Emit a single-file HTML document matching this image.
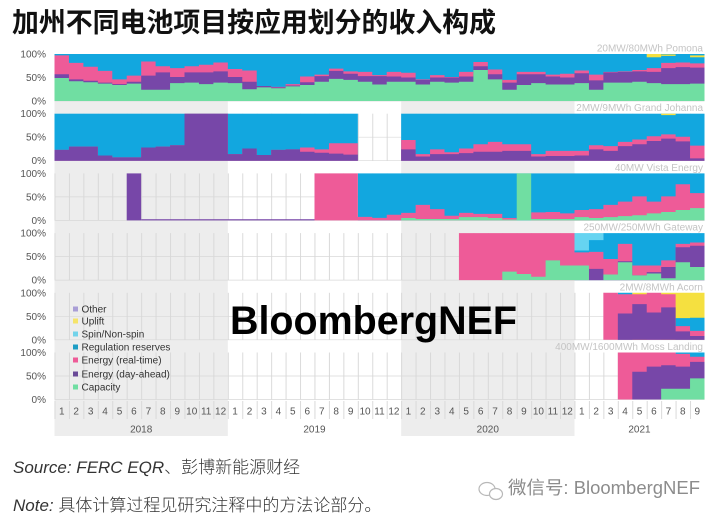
<!DOCTYPE html>
<html><head><meta charset="utf-8"><style>
html,body{margin:0;padding:0;background:#fff;}
svg{display:block;}
text{font-family:"Liberation Sans","Noto Sans CJK SC",sans-serif;}
</style></head><body>
<svg width="724" height="522" viewBox="0 0 724 522" xmlns="http://www.w3.org/2000/svg">
<defs>
<pattern id="vg" patternUnits="userSpaceOnUse" x="54.5" y="0" width="14.4444" height="10"><rect x="0" y="0" width="0.9" height="10" fill="#d6d6d6"/></pattern>
</defs>
<rect width="724" height="522" fill="#fff"/>
<!-- year shading -->
<rect x="54.5" y="54" width="173.33" height="382" fill="#ededed"/>
<rect x="401.17" y="54" width="173.33" height="382" fill="#ededed"/>
<!-- grids -->
<g fill="url(#vg)">
<rect x="54.5" y="54" width="650" height="47"/>
<rect x="54.5" y="113.7" width="650" height="47"/>
<rect x="54.5" y="173.4" width="650" height="47"/>
<rect x="54.5" y="233.1" width="650" height="47"/>
<rect x="54.5" y="292.8" width="650" height="47"/>
<rect x="54.5" y="352.5" width="650" height="47"/>
<rect x="54.5" y="401" width="650" height="18"/>
</g>
<g stroke="#d8d8d8" stroke-width="0.7" fill="none">
<path d="M54.5,77.5H704.5M54.5,101H704.5M54.5,137.2H704.5M54.5,160.7H704.5M54.5,196.9H704.5M54.5,220.4H704.5M54.5,256.6H704.5M54.5,280.1H704.5M54.5,316.3H704.5M54.5,339.8H704.5M54.5,376H704.5M54.5,399.5H704.5"/>
</g>

<!-- Panel 1 Pomona -->
<g transform="translate(54.5,54) scale(14.4444,0.47)">
<rect x="0" y="0" width="45" height="100" fill="#12a7df"/>
<rect x="41" y="0" width="1" height="7" fill="#f5e040"/>
<rect x="42" y="1" width="1" height="3" fill="#f5e040"/>
<rect x="44" y="3" width="1" height="4" fill="#f5e040"/>
<path fill="#ee5b98" d="M0,100V3H1V19H2V27H3V36H4V54H5V46H6V16H7V26H8V30H9V26H10V23H11V18H12V32H13V35H14V68H15V70H16V64H17V48H18V44H19V31H20V37H21V38H22V45H23V38H24V40H25V54H26V45H27V49H28V38H29V17H30V33H31V55H32V38H34V44H35V42H36V35H37V44H38V38H39V37H40V34H41V30H42V19H43V18H44V20H45V100Z"/>
<path fill="#7747a8" d="M0,100V43H1V54H2V57H3V61H4V64H5V59H6V46H7V39H8V49H9V39H11V37H12V49H13V59H14V68H15V71H16V67H17V60H18V47H19V36H20V42H21V47H23V48H24V50H25V55H26V50H28V48H29V26H30V43H31V61H32V43H34V48H35V50H36V41H37V56H38V39H39V38H40V37H41V38H42V30H43V28H44V29H45V100Z"/>
<path fill="#70dea2" d="M0,100V51H1V58H2V60H3V63H4V66H5V63H6V76H8V62H9V61H10V64H11V61H12V62H13V75H14V71H15V73H16V69H17V66H18V59H19V53H20V55H21V59H22V65H23V59H25V65H26V59H27V61H28V59H29V34H30V54H31V76H32V66H33V62H34V65H36V62H37V76H38V61H40V59H41V62H42V64H44V63H45V100Z"/>
</g>

<!-- Panel 2 Grand Johanna -->
<g transform="translate(54.5,113.7) scale(14.4444,0.47)">
<rect x="0" y="0" width="21" height="100" fill="#12a7df"/>
<rect x="24" y="0" width="21" height="100" fill="#12a7df"/>
<rect x="42" y="0" width="1" height="3" fill="#f5e040"/>
<path fill="#ee5b98" d="M0,100V77H1V70H3V89H4V93H6V72H7V70H8V67H9V0H12V86H13V74H14V88H15V77H16V76H17V72H18V76H19V63H21V100H24V56H25V86H26V76H27V82H28V74H29V65H30V60H31V65H33V86H34V79H37V67H38V69H39V60H40V55H41V48H42V44H43V49H44V68H45V100Z"/>
<path fill="#7747a8" d="M0,100V77H1V70H3V89H4V93H6V72H7V70H8V67H9V0H12V86H13V74H14V88H15V77H16V76H17V81H18V83H19V85H20V87H21V100H24V76H25V91H26V86H28V84H29V81H31V79H33V91H34V90H36V89H37V76H38V79H39V69H40V65H41V58H42V53H43V59H44V95H45V100Z"/>
</g>

<!-- Panel 3 Vista Energy -->
<g transform="translate(54.5,173.4) scale(14.4444,0.47)">
<rect x="21" y="0" width="24" height="100" fill="#12a7df"/>
<rect x="5" y="0" width="1" height="100" fill="#7747a8"/>
<rect x="6" y="97.5" width="12" height="2.5" fill="#7747a8"/>
<path fill="#ee5b98" d="M18,100V0H21V92.5H22V94.5H23V88H24V84H25V67H26V76H27V90H28V84H29V86H31V95H32V100H33V83H34V82H35V85H36V78H37V76H38V67H39V60H40V49H41V60H42V49H43V23H44V42H45V100Z"/>
<path fill="#70dea2" d="M24,100V95H25V97H28V93H30V95H31V98H32V0H33V97H36V93H37V95H38V93H39V91H40V89H41V85H42V82H43V78H44V74H45V100Z"/>
</g>

<!-- Panel 4 Gateway -->
<g transform="translate(54.5,233.1) scale(14.4444,0.47)">
<rect x="36" y="0" width="2" height="100" fill="#66d4f1"/>
<path fill="#12a7df" d="M36,100V37H37V15H38V0H45V100Z"/>
<path fill="#ee5b98" d="M28,100V0H36V41H37V40H38V55H39V23H40V69H42V58H43V23H44V20H45V100Z"/>
<path fill="#7747a8" d="M37,100V76H38V88H39V60H40V90H41V83H42V72H43V30H44V27H45V100Z"/>
<path fill="#70dea2" d="M31,100V82H32V87H33V93H34V58H35V69H37V100H38V88H39V62H40V90H41V86H42V96H43V62H44V72H45V100Z"/>
</g>

<!-- Panel 5 Acorn -->
<g transform="translate(54.5,292.8) scale(14.4444,0.47)">
<path fill="#f5e040" d="M40,100V0H41V100H42V0H45V100Z"/>
<path fill="#12a7df" d="M39,100V0H40V100H43V54H44V53H45V100Z"/>
<path fill="#ee5b98" d="M38,100V0H39V3H41V0H42V3H43V71H44V81H45V100Z"/>
<path fill="#7747a8" d="M39,100V44H40V24H41V42H42V31H43V82H44V92H45V100Z"/>
</g>

<!-- Panel 6 Moss Landing -->
<g transform="translate(54.5,352.5) scale(14.4444,0.47)">
<path fill="#12a7df" d="M43,100V0H45V100Z"/>
<path fill="#ee5b98" d="M39,100V0H43V3H44V9H45V100Z"/>
<path fill="#7747a8" d="M40,100V41H41V30H42V27H43V30H44V20H45V100Z"/>
<path fill="#70dea2" d="M42,100V77H44V55H45V100Z"/>
</g>

<!-- panel labels -->
<g font-size="10" fill="#c4c4c4" text-anchor="end">
<text x="703" y="51.5">20MW/80MWh Pomona</text>
<text x="703" y="111.2">2MW/9MWh Grand Johanna</text>
<text x="703" y="170.9">40MW Vista Energy</text>
<text x="703" y="230.6">250MW/250MWh Gateway</text>
<text x="703" y="290.3">2MW/8MWh Acorn</text>
<text x="703" y="350">400MW/1600MWh Moss Landing</text>
</g>

<!-- y labels -->
<g font-size="10" fill="#555" text-anchor="end">
<text x="46" y="57.5">100%</text><text x="46" y="81">50%</text><text x="46" y="104.5">0%</text>
<text x="46" y="117.2">100%</text><text x="46" y="140.7">50%</text><text x="46" y="164.2">0%</text>
<text x="46" y="176.9">100%</text><text x="46" y="200.4">50%</text><text x="46" y="223.9">0%</text>
<text x="46" y="236.6">100%</text><text x="46" y="260.1">50%</text><text x="46" y="283.6">0%</text>
<text x="46" y="296.3">100%</text><text x="46" y="319.8">50%</text><text x="46" y="343.3">0%</text>
<text x="46" y="356">100%</text><text x="46" y="379.5">50%</text><text x="46" y="403">0%</text>
</g>

<!-- month labels -->
<g font-size="10" fill="#555" text-anchor="middle">
<text x="61.72" y="414.5">1</text><text x="76.17" y="414.5">2</text><text x="90.61" y="414.5">3</text><text x="105.06" y="414.5">4</text><text x="119.5" y="414.5">5</text><text x="133.94" y="414.5">6</text><text x="148.39" y="414.5">7</text><text x="162.83" y="414.5">8</text><text x="177.28" y="414.5">9</text><text x="191.72" y="414.5">10</text><text x="206.17" y="414.5">11</text><text x="220.61" y="414.5">12</text>
<text x="235.06" y="414.5">1</text><text x="249.5" y="414.5">2</text><text x="263.94" y="414.5">3</text><text x="278.39" y="414.5">4</text><text x="292.83" y="414.5">5</text><text x="307.28" y="414.5">6</text><text x="321.72" y="414.5">7</text><text x="336.17" y="414.5">8</text><text x="350.61" y="414.5">9</text><text x="365.06" y="414.5">10</text><text x="379.5" y="414.5">11</text><text x="393.94" y="414.5">12</text>
<text x="408.39" y="414.5">1</text><text x="422.83" y="414.5">2</text><text x="437.28" y="414.5">3</text><text x="451.72" y="414.5">4</text><text x="466.17" y="414.5">5</text><text x="480.61" y="414.5">6</text><text x="495.06" y="414.5">7</text><text x="509.5" y="414.5">8</text><text x="523.94" y="414.5">9</text><text x="538.39" y="414.5">10</text><text x="552.83" y="414.5">11</text><text x="567.28" y="414.5">12</text>
<text x="581.72" y="414.5">1</text><text x="596.17" y="414.5">2</text><text x="610.61" y="414.5">3</text><text x="625.06" y="414.5">4</text><text x="639.5" y="414.5">5</text><text x="653.94" y="414.5">6</text><text x="668.39" y="414.5">7</text><text x="682.83" y="414.5">8</text><text x="697.28" y="414.5">9</text>
<text x="141.2" y="432.5">2018</text><text x="314.5" y="432.5">2019</text><text x="487.8" y="432.5">2020</text><text x="639.5" y="432.5">2021</text>
</g>

<!-- legend -->
<g font-size="10" fill="#333">
<rect x="73" y="306.5" width="5" height="5" fill="#a99ed6"/><text x="81.5" y="312.5">Other</text>
<rect x="73" y="318.5" width="5" height="5" fill="#f5e46a"/><text x="81.5" y="324.5">Uplift</text>
<rect x="73" y="331.5" width="5" height="5" fill="#72d3ea"/><text x="81.5" y="337.5">Spin/Non-spin</text>
<rect x="73" y="344.5" width="5" height="5" fill="#1d9dc4"/><text x="81.5" y="350.5">Regulation reserves</text>
<rect x="73" y="357.5" width="5" height="5" fill="#ee5b98"/><text x="81.5" y="363.5">Energy (real-time)</text>
<rect x="73" y="371.5" width="5" height="5" fill="#6a4a98"/><text x="81.5" y="377.5">Energy (day-ahead)</text>
<rect x="73" y="384.5" width="5" height="5" fill="#70dea2"/><text x="81.5" y="390.5">Capacity</text>
</g>

<!-- watermark -->
<text x="230" y="334" font-size="40" font-weight="bold" fill="#000" textLength="287" lengthAdjust="spacingAndGlyphs">BloombergNEF</text>

<!-- title -->
<text x="12" y="32" font-size="27" font-weight="bold" fill="#111" font-family="'Noto Sans CJK SC',sans-serif" textLength="484" lengthAdjust="spacingAndGlyphs">加州不同电池项目按应用划分的收入构成</text>

<!-- source / note -->
<text x="13" y="473" font-size="17" fill="#333"><tspan font-style="italic">Source: FERC EQR</tspan><tspan font-weight="300">、彭博新能源财经</tspan></text>
<text x="13" y="511" font-size="17" fill="#333"><tspan font-style="italic">Note: </tspan><tspan font-weight="300">具体计算过程见研究注释中的方法论部分。</tspan></text>

<!-- wechat -->
<g fill="none" stroke="#b8b8b8" stroke-width="1.2">
<ellipse cx="487" cy="489" rx="8" ry="6.5"/>
<ellipse cx="496" cy="494" rx="6.5" ry="5.5" fill="#fff"/>
</g>
<text x="508" y="494" font-size="18" fill="#8c8c8c" textLength="192" lengthAdjust="spacingAndGlyphs">微信号: BloombergNEF</text>
</svg>
</body></html>
